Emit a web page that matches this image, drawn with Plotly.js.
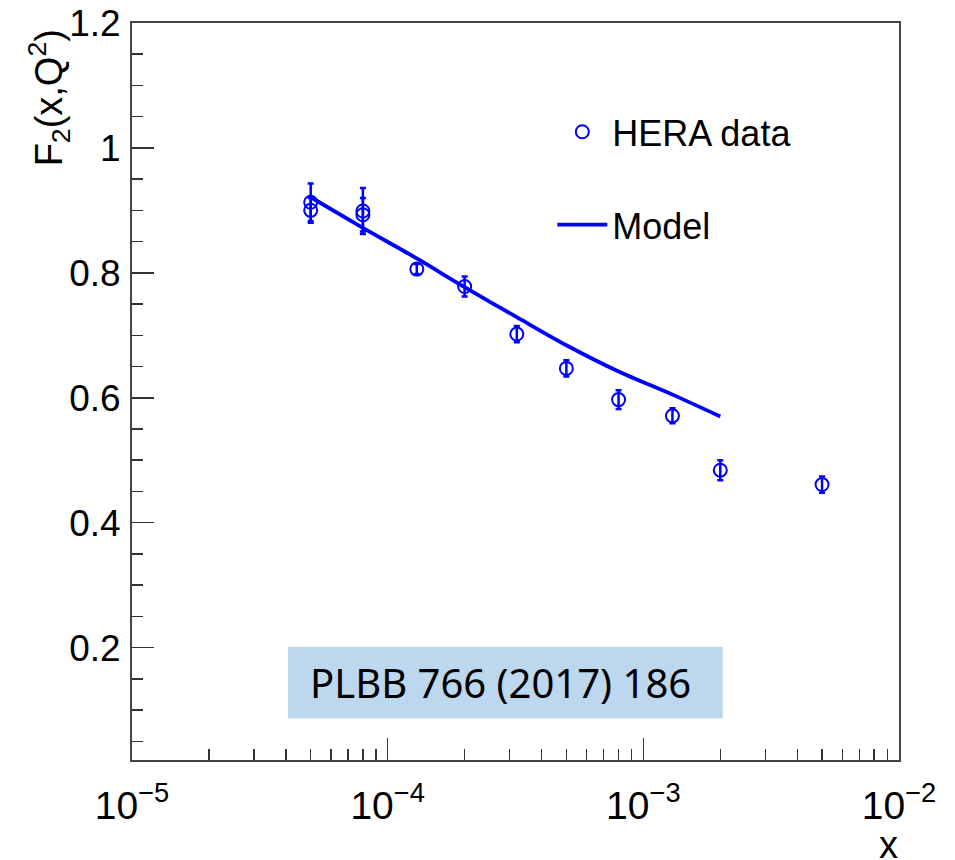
<!DOCTYPE html>
<html>
<head>
<meta charset="utf-8">
<script src="https://cdn.plot.ly/plotly-3.0.1.min.js"></script>
<style>html,body{margin:0;padding:0;background:#fff;}#chart{width:955px;height:860px;}</style>
</head>
<body>
<div id="chart"></div>
<script>
// HERA data points
const heraX = [5e-5, 5e-5, 8e-5, 8e-5, 1.3e-4, 2e-4, 3.2e-4, 5e-4, 8e-4, 1.3e-3, 2e-3, 5e-3];
const heraY = [0.913, 0.900, 0.899, 0.893, 0.806, 0.778, 0.702, 0.647, 0.597, 0.571, 0.484, 0.461];
const heraErr = [0.030, 0.020, 0.037, 0.027, 0.008, 0.016, 0.013, 0.013, 0.015, 0.012, 0.016, 0.013];
// Model curve
const modelX = [5e-5, 8e-5, 1.3e-4, 2e-4, 3.2e-4, 5e-4, 8e-4, 1.3e-3, 2e-3];
const modelY = [0.921, 0.872, 0.823, 0.777, 0.729, 0.684, 0.642, 0.605, 0.570];
// Axis ticks
const xTickVals = [1e-5, 1e-4, 1e-3, 1e-2];
const xTickText = ['10<sup>\u22125</sup>', '10<sup>\u22124</sup>', '10<sup>\u22123</sup>', '10<sup>\u22122</sup>'];
const xMinorMant = [2, 3, 4, 5, 6, 7, 8, 9];
const yTickVals = [0.2, 0.4, 0.6, 0.8, 1.0, 1.2];
const yTickText = ['0.2', '0.4', '0.6', '0.8', '1', '1.2'];
const legendNames = ['HERA data', 'Model'];
const refText = 'PLBB 766 (2017) 186';

const xMinorVals = [];
for (let d = 0; d < 3; d++) {
  xMinorMant.forEach(m => xMinorVals.push(m * xTickVals[d]));
}

const blue = '#0000ff';
const traces = [
  {
    x: heraX, y: heraY, type: 'scatter', mode: 'markers', name: legendNames[0],
    legendgroup: 'a',
    marker: {symbol: 'circle-open', size: 13, color: blue, line: {width: 2, color: blue}},
    error_y: {type: 'data', array: heraErr, visible: true, color: blue, thickness: 2.5, width: 3}
  },
  {
    x: modelX, y: modelY, type: 'scatter', mode: 'lines', name: legendNames[1],
    legendgroup: 'b',
    line: {color: blue, width: 3.8, shape: 'spline', smoothing: 0.8}
  }
];

const layout = {
  width: 955, height: 860,
  margin: {l: 132, r: 56, t: 23, b: 100},
  paper_bgcolor: '#fff', plot_bgcolor: '#fff',
  font: {family: '"Liberation Sans", Arial, sans-serif', color: '#000', size: 37},
  showlegend: true,
  legend: {
    x: 0.548, y: 0.893, xanchor: 'left', yanchor: 'top',
    bgcolor: 'rgba(0,0,0,0)', borderwidth: 0,
    font: {size: 36, family: '"Liberation Sans", Arial, sans-serif'},
    traceorder: 'grouped', tracegroupgap: 43, itemwidth: 50
  },
  xaxis: {
    type: 'log', range: [-5, -2],
    tickmode: 'array', tickvals: xTickVals, ticktext: xTickText,
    ticks: 'inside', ticklen: 22, tickwidth: 1.5, tickcolor: '#333',
    minor: {tickmode: 'array', tickvals: xMinorVals, ticks: 'inside', ticklen: 11, tickwidth: 1.5, tickcolor: '#333', showgrid: false},
    showline: true, linecolor: '#444', linewidth: 2, mirror: true,
    showgrid: false, zeroline: false,
    tickfont: {size: 39},
    ticklabelstandoff: 10
  },
  yaxis: {
    range: [0.02, 1.2],
    tickmode: 'array', tickvals: yTickVals, ticktext: yTickText,
    ticks: 'inside', ticklen: 22, tickwidth: 1.5, tickcolor: '#333',
    minor: {dtick: 0.05, tick0: 0, ticks: 'inside', ticklen: 11, tickwidth: 1.5, tickcolor: '#333', showgrid: false},
    showline: true, linecolor: '#444', linewidth: 2, mirror: true,
    showgrid: false, zeroline: false,
    tickfont: {size: 37},
    ticklabelstandoff: 2
  },
  shapes: [
    {type: 'rect', xref: 'paper', yref: 'paper', x0: 0.2034, x1: 0.7702, y0: 0.0566, y1: 0.1538,
     fillcolor: '#bdd7ee', line: {width: 0}, layer: 'below'}
  ],
  annotations: [
    {
      xref: 'paper', yref: 'paper', x: -0.107, y: 0.899,
      xanchor: 'center', yanchor: 'middle', textangle: -90,
      text: 'F<sub>2</sub>(x,Q<sup>2</sup>)', showarrow: false,
      font: {size: 38, family: '"Liberation Sans", Arial, sans-serif', color: '#000'}
    },
    {
      xref: 'paper', yref: 'paper', x: 0.9857, y: -0.115,
      xanchor: 'center', yanchor: 'middle',
      text: 'x', showarrow: false,
      font: {size: 38, family: '"Liberation Sans", Arial, sans-serif', color: '#000'}
    },
    {
      xref: 'paper', yref: 'paper', x: 0.4804, y: 0.1052,
      xanchor: 'center', yanchor: 'middle',
      text: refText, showarrow: false,
      font: {size: 40, family: '"Noto Sans", "Open Sans", sans-serif', color: '#000'}
    }
  ]
};

Plotly.newPlot('chart', traces, layout, {displayModeBar: false, staticPlot: true});
</script>
</body>
</html>
